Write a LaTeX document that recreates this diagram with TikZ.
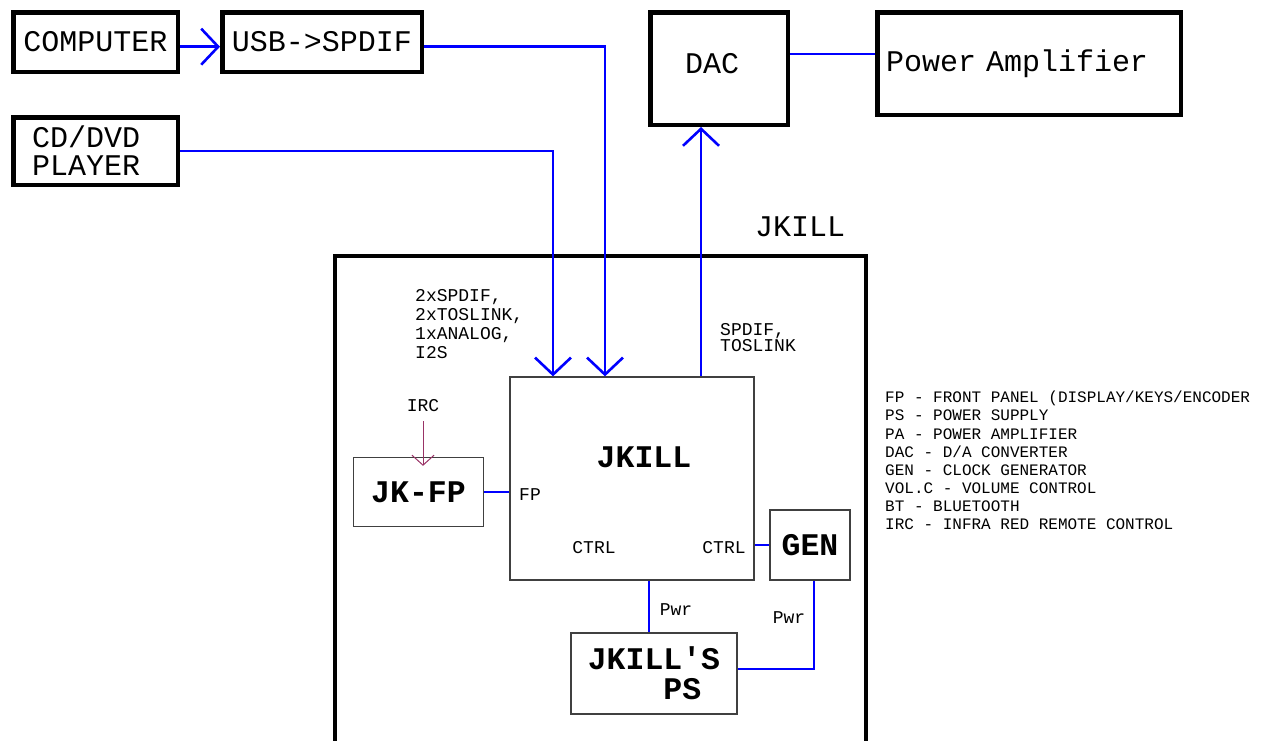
\documentclass[tikz,border=0pt]{standalone}
\usepackage{fontspec}
\setmonofont{Liberation Mono}
\usetikzlibrary{arrows.meta}

\definecolor{irpurple}{RGB}{153,51,102}

\tikzset{
  thickbox/.style={draw, line width=4.5pt, inner sep=0pt, font=\ttfamily\fontsize{30}{28}\selectfont},
  thinbox/.style={draw=black!75, line width=1.3pt, inner sep=0pt, font=\ttfamily\bfseries\fontsize{31.5}{30}\selectfont},
  sig/.style={draw=blue, line width=2.6pt},
  sigarr/.style={sig, -{Straight Barb[length=17pt,width=36pt]}},
  irarr/.style={draw=irpurple, line width=1pt, -{Straight Barb[length=10pt,width=22pt]}},
  lbl/.style={inner sep=0pt, font=\ttfamily\fontsize{18}{19}\selectfont},
}

\begin{document}
\begin{tikzpicture}[x=1pt,y=-1pt]
\useasboundingbox (0,0) rectangle (1261,740);

% Sources
\node[thickbox, minimum width=164.5, minimum height=59.5] (comp) at (95.5,42) {COMPUTER};
\node[thickbox, minimum width=199.5, minimum height=59.5] (usb) at (322,42) {USB->SPDIF};
\node[thickbox, minimum width=164.5, minimum height=67.5, text width=127, align=left] (cd) at (95.5,151) {CD/DVD\\PLAYER};

% Output chain
\node[thickbox, minimum width=137.5, minimum height=112.5, text width=68, text depth=10pt, align=left] (dac) at (719,68.5) {DAC};
\node[thickbox, minimum width=303.5, minimum height=102.5, text width=286, align=left] (pa) at (1029,63.5) {Power Amplifier};

% JKILL enclosure
\draw[line width=4.5pt] (335,745) -- (335,256) -- (866,256) -- (866,745);
\node[lbl, font=\ttfamily\fontsize{30}{30}\selectfont] (jklabel) at (800,227) {JKILL};

% Inner blocks
\node[thinbox, minimum width=244, minimum height=203] (jk) at (632,478.5) {};
\node[inner sep=0pt, font=\ttfamily\bfseries\fontsize{31.5}{30}\selectfont] (jkname) at (644,457) {JKILL};
\node[thinbox, minimum width=130, minimum height=69] (fp) at (418.5,492) {JK-FP};
\node[thinbox, minimum width=80, minimum height=70] (gen) at (810,545) {GEN};
\node[thinbox, minimum width=166, minimum height=81, align=left] (ps) at (654,673.5) {JKILL'S\\\phantom{JKIL}PS};

% Port labels
\node[lbl] (irc) at (423,406) {IRC};
\node[lbl] (fplbl) at (530,495) {FP};
\node[lbl] (ctrla) at (594,548) {CTRL};
\node[lbl] (ctrlb) at (724,548) {CTRL};
\node[lbl] (pwra) at (676,610) {Pwr};
\node[lbl] (pwrb) at (789,618) {Pwr};
\node[lbl, anchor=north west, align=left] (inputs) at (415,289) {2xSPDIF,\\2xTOSLINK,\\1xANALOG,\\I2S};
\node[lbl, anchor=north west, align=left, font=\ttfamily\fontsize{18}{16}\selectfont] (outputs) at (720,323) {SPDIF,\\TOSLINK};

% Legend
\node[inner sep=0pt, anchor=north west, align=left, font=\ttfamily\fontsize{16}{18.1}\selectfont] (legend) at (885,391)
  {FP - FRONT PANEL (DISPLAY/KEYS/ENCODER\\
   PS - POWER SUPPLY\\
   PA - POWER AMPLIFIER\\
   DAC - D/A CONVERTER\\
   GEN - CLOCK GENERATOR\\
   VOL.C - VOLUME CONTROL\\
   BT - BLUETOOTH\\
   IRC - INFRA RED REMOTE CONTROL};

% Signal lines
\draw[sigarr] ([yshift=-4.7pt]comp.east) -- ([yshift=-4.7pt]usb.west);
\draw[sigarr] ([yshift=-4.7pt]usb.east) -| ([xshift=-27pt]jk.north);
\draw[sigarr] (cd.east) -| ([xshift=-79pt]jk.north);
\draw[sigarr] ([xshift=69pt]jk.north) -- ([xshift=69pt]jk.north |- dac.south);
\draw[sig] ([yshift=14.5pt]dac.east) -- ([yshift=14.5pt]dac.east -| pa.west);

% Internal links
\draw[irarr] ([yshift=-9pt]irc.south) -- ([yshift=-9pt]irc.south |- fp.north);
\draw[sig] (fp.east) -- (fp.east -| jk.west);
\draw[sig] (gen.west) -- (gen.west -| jk.east);
\draw[sig] ([xshift=17pt]jk.south) -- ([xshift=17pt]jk.south |- ps.north);
\draw[sig] ([yshift=4.5pt]ps.east) -| ([xshift=4pt]gen.south);

\end{tikzpicture}
\end{document}
